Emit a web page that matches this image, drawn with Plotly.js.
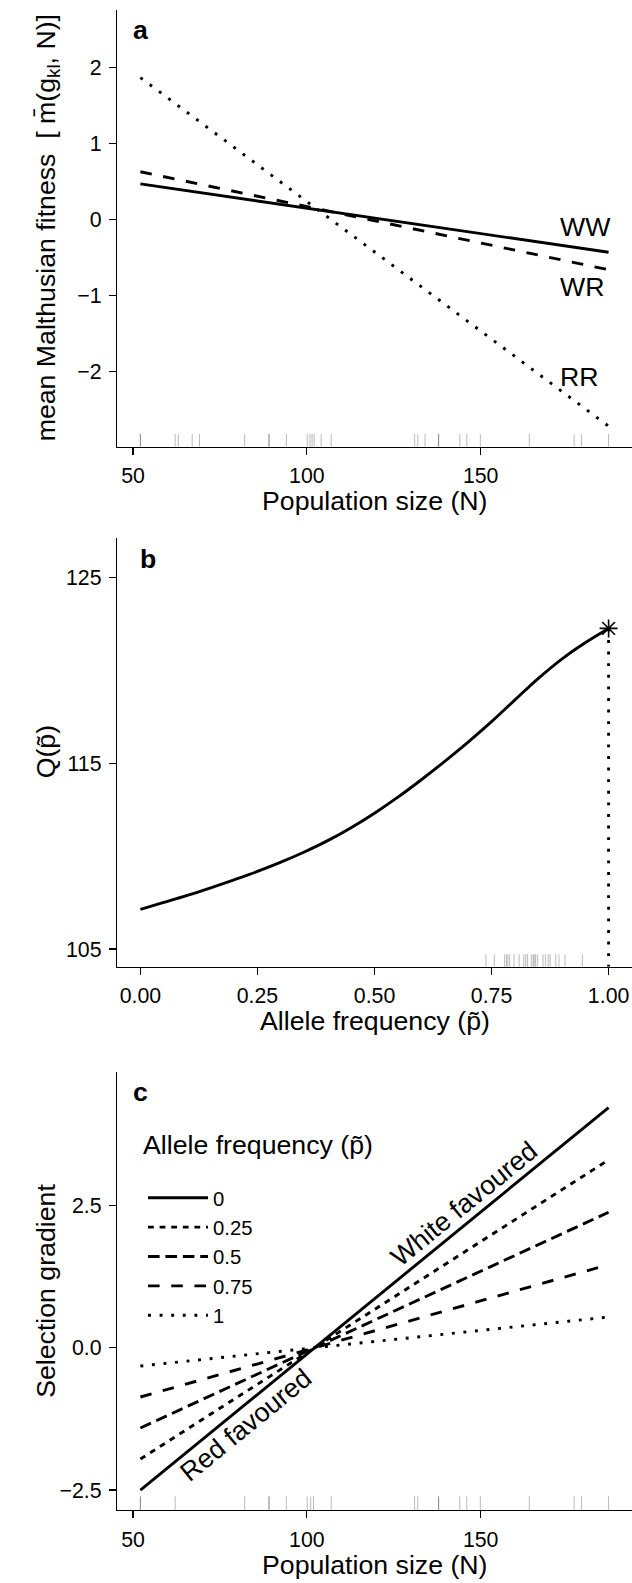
<!DOCTYPE html>
<html><head><meta charset="utf-8">
<script src="https://cdn.plot.ly/plotly-3.0.1.min.js"></script>
<style>html,body{margin:0;padding:0;background:#fff}</style>
</head><body><div id="chart" style="width:632px;height:1583px"></div>
<script>
// ---------- Panel a data ----------
const popSizeEnds = [52.1, 186.8];
const fitnessWW = [0.47, -0.43];
const fitnessWR = [0.63, -0.66];
const fitnessRR = [1.87, -2.72];
const genotypeLabels = ['WW', 'WR', 'RR'];
const genotypeLabelN = 172.7;
const genotypeLabelY = [-0.093, -0.891, -2.068];
const rugPopA = [52.1, 52.1, 62.1, 63.0, 67.0, 69.1, 82.1, 89.1, 89.1, 94.1, 100.1, 100.9, 101.5, 102.1, 104.1, 107.0, 131.0, 131.9, 134.0, 137.9, 137.9, 144.0, 146.0, 149.9, 164.0, 176.9, 179.0, 186.8];

// ---------- Panel b data ----------
const alleleFreq = [0, 0.05, 0.1, 0.15, 0.2, 0.25, 0.3, 0.35, 0.4, 0.45, 0.5, 0.55, 0.6, 0.65, 0.7, 0.75, 0.8, 0.85, 0.9, 0.95, 1.0];
const qValues = [107.14, 107.51, 107.89, 108.30, 108.73, 109.18, 109.68, 110.23, 110.84, 111.54, 112.32, 113.18, 114.12, 115.11, 116.15, 117.25, 118.42, 119.58, 120.62, 121.50, 122.27];
const pOptimum = [1.0];
const qOptimum = [122.27];
const rugFreqB = [0.738, 0.756, 0.778, 0.782, 0.785, 0.789, 0.798, 0.809, 0.819, 0.823, 0.827, 0.835, 0.839, 0.841, 0.844, 0.848, 0.860, 0.865, 0.871, 0.875, 0.887, 0.894, 0.907, 0.944];

// ---------- Panel c data ----------
const freqLevels = ['0', '0.25', '0.5', '0.75', '1'];
const gradientAtNmin = [-2.50, -1.955, -1.41, -0.865, -0.32];
const gradientAtNmax = [4.22, 3.30, 2.38, 1.46, 0.54];
const rugPopC = [52.1, 52.1, 62.1, 82.1, 89.1, 89.1, 94.1, 100.1, 101.1, 101.9, 107.0, 131.0, 131.9, 137.9, 137.9, 144.0, 146.0, 149.9, 164.0, 176.9, 179.0, 186.8];

// ---------- tick labels ----------
const ticksA_x = [50, 100, 150];
const ticksA_y = [-2, -1, 0, 1, 2];
const ticksB_x = [0, 0.25, 0.5, 0.75, 1];
const ticksB_xText = ['0.00', '0.25', '0.50', '0.75', '1.00'];
const ticksB_y = [105, 115, 125];
const ticksC_y = [-2.5, 0, 2.5];
const ticksC_yText = ['\u22122.5', '0.0', '2.5'];

// ---------- styles ----------
const FONT = 'Liberation Sans, Arial, Helvetica, sans-serif';
const LW = 2.9;
const DOT = (LW) + 'px,' + (3 * LW) + 'px';       // R "13"
const D22 = (2 * LW) + 'px,' + (2 * LW) + 'px';
const D42 = (4 * LW) + 'px,' + (2 * LW) + 'px';
const D44 = (4 * LW) + 'px,' + (4 * LW) + 'px';
const levelDash = ['solid', D22, D42, D44, DOT];

const rangeA_x = [45.37, 193.54];
const rangeA_y = [-2.99, 2.76];
const rangeB_x = [-0.05, 1.05];
const rangeB_y = [104.05, 127.14];
const rangeC_y = [-2.85, 4.85];

const traces = [];
// panel a
[[fitnessWW, 'solid'], [fitnessWR, D44], [fitnessRR, DOT]].forEach(function (s, i) {
  traces.push({x: popSizeEnds, y: s[0], type: 'scatter', mode: 'lines', xaxis: 'x', yaxis: 'y',
    line: {color: '#000', width: LW, dash: s[1]}, showlegend: false, name: genotypeLabels[i], hoverinfo: 'skip'});
});
// panel b
traces.push({x: alleleFreq, y: qValues, type: 'scatter', mode: 'lines', xaxis: 'x2', yaxis: 'y2',
  line: {color: '#000', width: LW, shape: 'spline'}, showlegend: false});
traces.push({x: [pOptimum[0], pOptimum[0]], y: [qOptimum[0], rangeB_y[0]], type: 'scatter', mode: 'lines',
  xaxis: 'x2', yaxis: 'y2', line: {color: '#000', width: LW, dash: DOT}, showlegend: false});
traces.push({x: pOptimum, y: qOptimum, type: 'scatter', mode: 'markers', xaxis: 'x2', yaxis: 'y2',
  marker: {symbol: 'asterisk-open', size: 15, color: '#000', line: {color: '#000', width: 1.6}}, showlegend: false, cliponaxis: false});
// panel c
freqLevels.forEach(function (lev, i) {
  traces.push({x: popSizeEnds, y: [gradientAtNmin[i], gradientAtNmax[i]], type: 'scatter', mode: 'lines',
    xaxis: 'x3', yaxis: 'y3', name: lev, line: {color: '#000', width: LW, dash: levelDash[i]}, showlegend: true});
});

// rugs
const shapes = [];
function rug(vals, xr, yr, frac) {
  vals.forEach(function (v) {
    shapes.push({type: 'line', xref: xr, yref: yr, x0: v, x1: v, y0: 0, y1: frac,
      line: {color: 'rgba(0,0,0,0.28)', width: 1}});
  });
}
rug(rugPopA, 'x', 'y domain', 0.029);
rug(rugFreqB, 'x2', 'y2 domain', 0.029);
rug(rugPopC, 'x3', 'y3 domain', 0.031);

function axis(extra) {
  return Object.assign({
    showline: true, linecolor: '#000', linewidth: 1.2, ticks: 'outside', ticklen: 7, tickwidth: 1.2,
    tickcolor: '#000', showgrid: false, zeroline: false, fixedrange: true,
    tickfont: {family: FONT, size: 21.3, color: '#000'}, ticklabelstandoff: 3
  }, extra);
}

const annotations = [];
function ann(o) { annotations.push(Object.assign({showarrow: false, font: {family: FONT, size: 26.7, color: '#000'}}, o)); }
// axis titles
ann({text: 'Population size (N)', xref: 'x domain', yref: 'y domain', x: 0.5, y: 0, yshift: -54, yanchor: 'middle'});
ann({text: 'Allele frequency (p\u0303)', xref: 'x2 domain', yref: 'y2 domain', x: 0.5, y: 0, yshift: -54, yanchor: 'middle'});
ann({text: 'Population size (N)', xref: 'x3 domain', yref: 'y3 domain', x: 0.5, y: 0, yshift: -55, yanchor: 'middle'});
ann({text: 'mean Malthusian fitness\u00a0\u00a0[\u00a0m\u0304(g<sub>kl</sub>, N)]', xref: 'paper', yref: 'y domain', x: 0, y: 0.5, xshift: -88, textangle: -90});
ann({text: 'Q(p\u0303)', xref: 'paper', yref: 'y2 domain', x: 0, y: 0.5, xshift: -88, textangle: -90});
ann({text: 'Selection gradient', xref: 'paper', yref: 'y3 domain', x: 0, y: 0.5, xshift: -88, textangle: -90});
// panel letters
ann({text: '<b>a</b>', xref: 'x', yref: 'y', x: 50, y: 2.5, xanchor: 'left', xshift: -2});
ann({text: '<b>b</b>', xref: 'x2', yref: 'y2', x: 0, y: 126, xanchor: 'left', xshift: -2});
ann({text: '<b>c</b>', xref: 'x3', yref: 'y3', x: 50, y: 4.5, xanchor: 'left', xshift: -2});
// genotype labels
genotypeLabels.forEach(function (g, i) {
  ann({text: g, xref: 'x', yref: 'y', x: genotypeLabelN, y: genotypeLabelY[i], xanchor: 'left', xshift: -2});
});
// favoured labels
ann({text: 'White favoured', xref: 'x3', yref: 'y3', x: 145.14, y: 2.534, textangle: -39.2});
ann({text: 'Red favoured', xref: 'x3', yref: 'y3', x: 82.51, y: -1.364, textangle: -39.2});
// legend title
ann({text: 'Allele frequency (p\u0303)', xref: 'x3 domain', yref: 'y3', x: 0.0511, y: 3.567, xanchor: 'left', xshift: -2, yanchor: 'middle'});

const layout = {
  width: 632, height: 1583, autosize: false,
  margin: {l: 117, r: 0, t: 10, b: 73, pad: 0},
  paper_bgcolor: '#fff', plot_bgcolor: '#fff',
  font: {family: FONT, color: '#000', size: 21.3},
  xaxis: axis({domain: [0, 1], anchor: 'y', range: rangeA_x, tickvals: ticksA_x}),
  yaxis: axis({domain: [0.70887, 1], anchor: 'x', range: rangeA_y, tickvals: ticksA_y}),
  xaxis2: axis({domain: [0, 1], anchor: 'y2', range: rangeB_x, tickvals: ticksB_x, ticktext: ticksB_xText}),
  yaxis2: axis({domain: [0.3622, 0.648], anchor: 'x2', range: rangeB_y, tickvals: ticksB_y}),
  xaxis3: axis({domain: [0, 1], anchor: 'y3', range: rangeA_x, tickvals: ticksA_x}),
  yaxis3: axis({domain: [0, 0.2922], anchor: 'x3', range: rangeC_y, tickvals: ticksC_y, ticktext: ticksC_yText}),
  showlegend: true,
  legend: {x: 0.0505, y: 0.2213, xref: 'paper', yref: 'paper', xanchor: 'left', yanchor: 'top',
    bgcolor: 'rgba(0,0,0,0)', borderwidth: 0, font: {family: FONT, size: 20.3, color: '#000'},
    itemwidth: 60, tracegroupgap: 0},
  shapes: shapes,
  annotations: annotations
};

Plotly.newPlot('chart', traces, layout, {displayModeBar: false, staticPlot: true});
</script></body></html>
